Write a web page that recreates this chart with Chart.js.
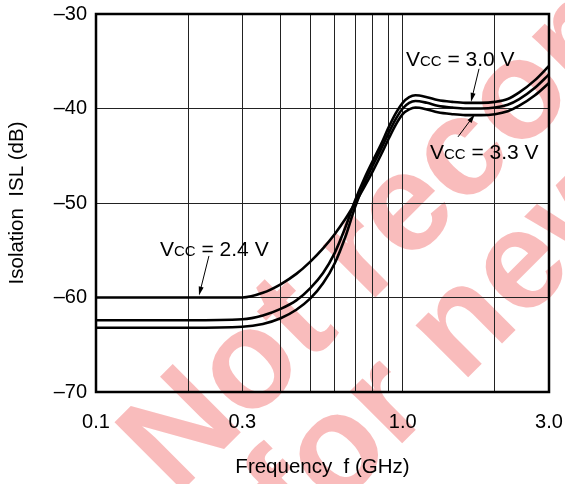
<!DOCTYPE html>
<html>
<head>
<meta charset="utf-8">
<script src="https://cdn.jsdelivr.net/npm/chart.js@4.4.1/dist/chart.umd.min.js"></script>
<style>
  html, body { margin: 0; padding: 0; background: #fff; }
  #wrap { width: 565px; height: 484px; position: relative; }
</style>
</head>
<body>
<div id="wrap"><canvas id="isl"></canvas></div>
<script>
// frequency in GHz, isolation in dB
const freqs = [0.1, 0.2, 0.3, 0.35, 0.4, 0.45, 0.5, 0.55, 0.6, 0.65, 0.7, 0.75, 0.8, 0.85, 0.9, 0.95, 1.0, 1.05, 1.1, 1.2, 1.3, 1.45, 1.6, 1.8, 2.0, 2.2, 2.4, 2.7, 3.0];
const vcc24 = [-60.0, -60.0, -60.0, -59.5, -58.6, -57.5, -56.2, -54.8, -53.3, -51.7, -50.0, -48.3, -46.6, -44.9, -43.2, -41.7, -40.6, -40.1, -39.9, -40.1, -40.4, -40.6, -40.7, -40.7, -40.6, -40.3, -39.7, -38.6, -37.3];
const vcc30 = [-62.4, -62.4, -62.3, -61.9, -61.2, -60.3, -59.0, -57.4, -55.3, -52.6, -49.7, -47.4, -45.5, -43.8, -42.0, -40.5, -39.4, -38.8, -38.6, -38.8, -39.1, -39.3, -39.4, -39.4, -39.3, -39.0, -38.3, -37.0, -35.5];
const vcc33 = [-63.2, -63.2, -63.1, -62.8, -62.2, -61.3, -60.1, -58.5, -56.4, -53.6, -50.4, -47.9, -46.0, -44.3, -42.6, -41.1, -40.0, -39.4, -39.2, -39.4, -39.7, -39.9, -40.0, -40.0, -39.9, -39.6, -39.0, -37.8, -36.4];

const xGrid = [0.1, 0.2, 0.3, 0.4, 0.5, 0.6, 0.7, 0.8, 0.9, 1.0, 2.0, 3.0];
const xLabels = { 0.1: '0.1', 0.3: '0.3', 1: '1.0', 3: '3.0' };
const yTicks = [-70, -60, -50, -40, -30];

const FONT = '"Liberation Sans", Arial, Helvetica, sans-serif';

// callouts: label left/middle and arrow tail -> head, all in data units
const notes = [
  { parts: [['V', 21], ['CC', 15], [' = 3.0 V', 21]], at: [1.025, -34.7], tail: [1.774, -35.8], head: [1.67, -39.3] },
  { parts: [['V', 21], ['CC', 15], [' = 3.3 V', 21]], at: [1.227, -44.6], tail: [1.515, -43.0], head: [1.72, -40.6] },
  { parts: [['V', 21], ['CC', 15], [' = 2.4 V', 21]], at: [0.1617, -54.8], tail: [0.2335, -55.6], head: [0.2167, -59.8] }
];

const stamp = {
  id: 'stamp',
  beforeDraw(chart) {
    const ctx = chart.ctx;
    ctx.save();
    ctx.fillStyle = '#fff';
    ctx.fillRect(0, 0, chart.width, chart.height);
    ctx.fillStyle = 'rgba(240, 80, 80, 0.38)';
    ctx.font = 'bold 140px ' + FONT;
    ctx.translate(176, 497);
    ctx.rotate(-Math.PI / 4);
    ctx.fillText('Not recommended', 0, 0);
    ctx.fillText('for new design', 56, 122);
    ctx.restore();
  }
};

const frame = {
  id: 'frame',
  afterDatasetsDraw(chart) {
    const { ctx, chartArea: a } = chart;
    ctx.save();
    ctx.strokeStyle = '#000';
    ctx.lineWidth = 2.5;
    ctx.strokeRect(a.left, a.top, a.right - a.left, a.bottom - a.top);
    ctx.restore();
  }
};

const callouts = {
  id: 'callouts',
  afterDraw(chart) {
    const { ctx, scales: { x, y } } = chart;
    ctx.save();
    ctx.fillStyle = '#000';
    ctx.strokeStyle = '#000';
    ctx.textBaseline = 'alphabetic';
    notes.forEach((n) => {
      let px = x.getPixelForValue(n.at[0]);
      const py = y.getPixelForValue(n.at[1]) + 7.5;
      n.parts.forEach(([s, size]) => {
        ctx.font = size + 'px ' + FONT;
        ctx.fillText(s, px, py);
        px += ctx.measureText(s).width;
      });
      const tx = x.getPixelForValue(n.tail[0]);
      const ty = y.getPixelForValue(n.tail[1]);
      const hx = x.getPixelForValue(n.head[0]);
      const hy = y.getPixelForValue(n.head[1]);
      const ang = Math.atan2(hy - ty, hx - tx);
      ctx.lineWidth = 1;
      ctx.beginPath();
      ctx.moveTo(tx, ty);
      ctx.lineTo(hx - 6 * Math.cos(ang), hy - 6 * Math.sin(ang));
      ctx.stroke();
      ctx.beginPath();
      ctx.moveTo(hx, hy);
      ctx.lineTo(hx - 9 * Math.cos(ang) + 2.5 * Math.sin(ang), hy - 9 * Math.sin(ang) - 2.5 * Math.cos(ang));
      ctx.lineTo(hx - 9 * Math.cos(ang) - 2.5 * Math.sin(ang), hy - 9 * Math.sin(ang) + 2.5 * Math.cos(ang));
      ctx.closePath();
      ctx.fill();
    });
    ctx.restore();
  }
};

const series = [vcc24, vcc30, vcc33].map((vals) => ({
  data: freqs.map((f, i) => ({ x: f, y: vals[i] })),
  borderColor: '#000',
  borderWidth: 2.6,
  pointRadius: 0,
  fill: false,
  cubicInterpolationMode: 'monotone'
}));

new Chart(document.getElementById('isl'), {
  type: 'line',
  data: { datasets: series },
  plugins: [stamp, frame, callouts],
  options: {
    responsive: true,
    maintainAspectRatio: false,
    animation: false,
    events: [],
    layout: { padding: { top: 14, right: 16, left: 0, bottom: 0 } },
    plugins: { legend: { display: false }, tooltip: { enabled: false } },
    scales: {
      x: {
        type: 'logarithmic',
        min: 0.1,
        max: 3.0,
        afterBuildTicks: (s) => { s.ticks = xGrid.map((v) => ({ value: v })); },
        afterFit: (s) => { s.height = 92; s.paddingLeft = 0; s.paddingRight = 0; },
        grid: { color: '#222', lineWidth: 1, drawTicks: false },
        border: { display: false },
        ticks: {
          autoSkip: false,
          maxRotation: 0,
          padding: 18,
          color: '#000',
          font: { family: FONT, size: 20 },
          callback: (v) => xLabels[Math.round(v * 10) / 10] || ''
        },
        title: {
          display: true,
          text: 'Frequency  f (GHz)',
          color: '#000',
          font: { family: FONT, size: 20.5 },
          padding: { top: 0, bottom: 4 }
        }
      },
      y: {
        min: -70,
        max: -30,
        afterBuildTicks: (s) => { s.ticks = yTicks.map((v) => ({ value: v })); },
        afterFit: (s) => { s.width = 96; s.paddingTop = 0; s.paddingBottom = 0; },
        grid: { color: '#222', lineWidth: 1, drawTicks: false },
        border: { display: false },
        ticks: {
          padding: 9,
          color: '#000',
          font: { family: FONT, size: 20 },
          callback: (v) => String(v).replace('-', '\u2013')
        },
        title: {
          display: true,
          text: 'Isolation  ISL (dB)',
          color: '#000',
          font: { family: FONT, size: 20.5 },
          padding: { top: 5, bottom: 0 }
        }
      }
    }
  }
});
</script>
</body>
</html>
